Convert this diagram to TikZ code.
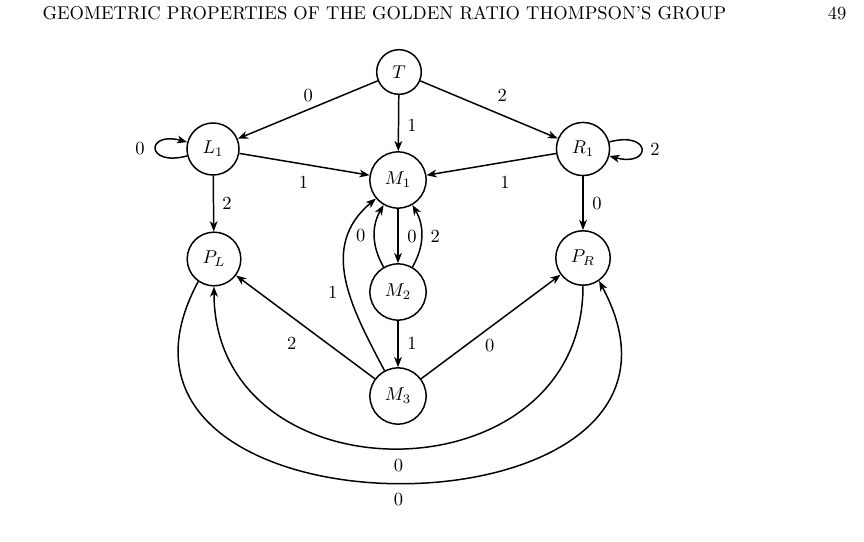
\documentclass[tikz,border=0pt]{standalone}
\usetikzlibrary{arrows.meta}
\begin{document}
\begin{tikzpicture}[x=0.54pt,y=0.54pt,
  st/.style={circle,draw,line width=0.8pt,inner sep=5pt},
  ar/.style={-{Stealth[length=5.5pt,width=4.2pt,inset=1.6pt]},line width=0.8pt},
  lab/.style={inner sep=0pt}]
\useasboundingbox (0,0) rectangle (864,-542);
\node[anchor=base west] (head) at (36,-20) {GEOMETRIC PROPERTIES OF THE GOLDEN RATIO THOMPSON'S GROUP};
\node[anchor=base east] (page) at (853,-20) {49};
\node[st] (T) at (399,-72) {$T$};
\node[st] (L1) at (213,-149) {$L_1$};
\node[st] (M1) at (398,-180) {$M_1$};
\node[st] (R1) at (583,-149) {$R_1$};
\node[st] (PL) at (214,-259) {$P_L$};
\node[st] (PR) at (583,-258) {$P_R$};
\node[st] (M2) at (398,-292) {$M_2$};
\node[st] (M3) at (398,-396) {$M_3$};

\draw[ar] (T) -- node[lab,shift={(0.6,13.9)}] {0} (L1);
\draw[ar] (T) -- node[lab,shift={(13.5,-2)}] {1} (M1);
\draw[ar] (T) -- node[lab,shift={(13.1,14.7)}] {2} (R1);
\draw[ar] (L1) -- node[lab,shift={(-1,-17.7)}] {1} (M1);
\draw[ar] (R1) -- node[lab,shift={(13.7,-17.6)}] {1} (M1);
\draw[ar] (L1) to[loop left] node[lab,left=5.6pt] {0} (L1);
\draw[ar] (R1) to[loop right] node[lab,right=4.5pt] {2} (R1);
\draw[ar] (L1) -- node[lab,shift={(13.5,0)}] {2} (PL);
\draw[ar] (R1) -- node[lab,shift={(14,0)}] {0} (PR);
\draw[ar] (M1) -- node[lab,shift={(14,-1)}] {0} (M2);
\draw[ar] (M2) to[bend left=30] node[lab,left=4.5pt] {0} (M1);
\draw[ar] (M2) to[bend right=30] node[lab,right=4.5pt] {2} (M1);
\draw[ar] (M2) -- node[lab,shift={(14,1)}] {1} (M3);
\draw[ar] (M3) to[out=118,in=220,looseness=1.1] node[lab,shift={(-13,-14)}] {1} (M1);
\draw[ar] (M3) -- node[lab,shift={(-13.7,-16.3)}] {2} (PL);
\draw[ar] (M3) -- node[lab,shift={(-1,-18.4)}] {0} (PR);
\draw[ar] (PR.south) .. controls +(0,-216) and +(0,-216) .. (PL.south) node[lab,midway,shift={(0,-17)}] {0};
\draw[ar] (PL.-125) .. controls +(-145,-269) and +(145,-269) .. (PR.-55) node[lab,midway,shift={(0,-17)}] {0};
\end{tikzpicture}
\end{document}
